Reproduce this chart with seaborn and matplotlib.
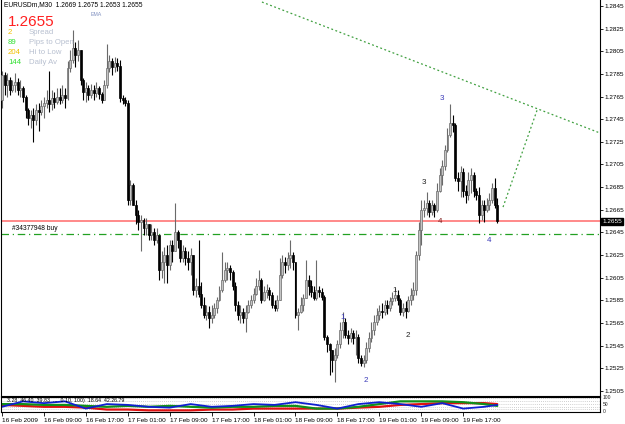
import numpy as np
import pandas as pd
import matplotlib
matplotlib.use("Agg")
import matplotlib.pyplot as plt
import seaborn as sns

# ---------------- data (prices in pips, 1.2655 -> 12655) ----------------
first_open_pips = 12762
close_pips = [
    12784, 12775, 12780, 12771, 12775, 12778, 12771, 12773, 12765, 12753,
    12746, 12749, 12744, 12753, 12751, 12757, 12759, 12762, 12758, 12764,
    12760, 12765, 12762, 12766, 12764, 12790, 12797, 12808, 12802, 12806,
    12780, 12769, 12773, 12766, 12771, 12768, 12773, 12767, 12762, 12775,
    12790, 12796, 12791, 12795, 12792, 12764, 12762, 12759, 12674, 12687,
    12669, 12660, 12654, 12656, 12649, 12652, 12643, 12645, 12638, 12643,
    12612, 12619, 12625, 12616, 12634, 12629, 12645, 12638, 12622, 12629,
    12622, 12619, 12625, 12594, 12598, 12591, 12581, 12572, 12575, 12569,
    12572, 12578, 12585, 12594, 12603, 12612, 12614, 12610, 12598, 12581,
    12572, 12575, 12569, 12575, 12581, 12585, 12591, 12598, 12603, 12585,
    12592, 12594, 12590, 12581, 12578, 12585, 12607, 12619, 12616, 12622,
    12625, 12619, 12572, 12575, 12581, 12587, 12603, 12598, 12592, 12587,
    12594, 12592, 12588, 12553, 12546, 12541, 12532, 12537, 12546, 12559,
    12566, 12554, 12552, 12556, 12552, 12553, 12534, 12530, 12532, 12543,
    12552, 12559, 12566, 12572, 12576, 12575, 12581, 12578, 12584, 12587,
    12590, 12585, 12575, 12578, 12576, 12585, 12590, 12594, 12625, 12647,
    12665, 12667, 12671, 12663, 12669, 12665, 12682, 12696, 12704, 12718,
    12731, 12742, 12740, 12693, 12690, 12698, 12682, 12678, 12691, 12696,
    12682, 12678, 12660, 12669, 12665, 12669, 12674, 12684, 12669, 12655,
]
high_pips = [
    12788, 12787, 12786, 12782, 12780, 12786, 12781, 12780, 12774, 12766,
    12755, 12753, 12755, 12758, 12759, 12762, 12765, 12771, 12788, 12771,
    12769, 12773, 12773, 12775, 12773, 12796, 12806, 12824, 12813, 12815,
    12802, 12781, 12778, 12775, 12776, 12775, 12778, 12774, 12769, 12780,
    12811, 12802, 12799, 12800, 12799, 12797, 12766, 12765, 12762, 12691,
    12689, 12674, 12665, 12660, 12658, 12658, 12652, 12652, 12649, 12649,
    12643, 12629, 12632, 12634, 12638, 12638, 12671, 12647, 12637, 12634,
    12632, 12629, 12631, 12625, 12605, 12638, 12601, 12588, 12581, 12580,
    12581, 12583, 12588, 12598, 12628, 12619, 12619, 12616, 12612, 12601,
    12584, 12581, 12578, 12581, 12585, 12590, 12596, 12605, 12612, 12605,
    12598, 12599, 12597, 12592, 12585, 12590, 12622, 12625, 12623, 12628,
    12638, 12628, 12619, 12578, 12588, 12591, 12621, 12607, 12603, 12598,
    12621, 12598, 12596, 12590, 12554, 12547, 12541, 12543, 12550, 12566,
    12575, 12569, 12559, 12561, 12559, 12559, 12555, 12537, 12537, 12548,
    12557, 12566, 12572, 12578, 12581, 12583, 12585, 12585, 12588, 12592,
    12596, 12594, 12587, 12583, 12584, 12589, 12596, 12601, 12629, 12654,
    12674, 12674, 12681, 12674, 12674, 12671, 12689, 12702, 12709, 12722,
    12737, 12758, 12749, 12742, 12698, 12704, 12702, 12687, 12698, 12702,
    12698, 12684, 12685, 12674, 12674, 12675, 12680, 12689, 12693, 12675,
]
low_pips = [
    12755, 12766, 12765, 12766, 12769, 12769, 12766, 12765, 12760, 12746,
    12740, 12737, 12725, 12740, 12735, 12749, 12746, 12755, 12751, 12753,
    12755, 12758, 12758, 12759, 12755, 12762, 12787, 12795, 12791, 12796,
    12775, 12762, 12760, 12762, 12764, 12762, 12765, 12763, 12759, 12762,
    12773, 12787, 12784, 12787, 12788, 12760, 12758, 12757, 12669, 12669,
    12669, 12652, 12647, 12629, 12643, 12643, 12638, 12638, 12634, 12636,
    12603, 12605, 12600, 12600, 12612, 12619, 12629, 12631, 12619, 12619,
    12616, 12612, 12607, 12590, 12588, 12588, 12578, 12569, 12568, 12561,
    12565, 12569, 12574, 12584, 12592, 12601, 12603, 12603, 12594, 12576,
    12568, 12565, 12565, 12557, 12574, 12578, 12583, 12590, 12594, 12583,
    12584, 12587, 12585, 12578, 12576, 12576, 12585, 12605, 12609, 12612,
    12614, 12612, 12569, 12559, 12574, 12576, 12587, 12590, 12588, 12585,
    12585, 12588, 12585, 12550, 12539, 12519, 12522, 12513, 12534, 12543,
    12552, 12552, 12546, 12548, 12546, 12537, 12530, 12527, 12526, 12530,
    12539, 12548, 12554, 12563, 12568, 12569, 12572, 12573, 12576, 12581,
    12584, 12581, 12572, 12571, 12569, 12575, 12581, 12585, 12590, 12621,
    12634, 12659, 12660, 12659, 12660, 12659, 12663, 12681, 12687, 12700,
    12716, 12729, 12734, 12690, 12682, 12676, 12676, 12671, 12674, 12680,
    12676, 12674, 12653, 12656, 12654, 12663, 12665, 12671, 12667, 12653,
]

time_labels = ["16 Feb 2009", "16 Feb 09:00", "16 Feb 17:00", "17 Feb 01:00",
               "17 Feb 09:00", "17 Feb 17:00", "18 Feb 01:00", "18 Feb 09:00",
               "18 Feb 17:00", "19 Feb 01:00", "19 Feb 09:00", "19 Feb 17:00"]
time_label_bars = [0, 16, 32, 48, 64, 80, 96, 112, 128, 144, 160, 176]

price_tick_labels = ["1.2505", "1.2525", "1.2545", "1.2565", "1.2585", "1.2605",
                     "1.2625", "1.2645", "1.2665", "1.2685", "1.2705", "1.2725",
                     "1.2745", "1.2765", "1.2785", "1.2805", "1.2825", "1.2845"]

# indicator sub-window (0..100), read at every 8th bar
ind_bars = [0, 8, 16, 24, 32, 40, 48, 56, 64, 72, 80, 88, 96, 104, 112, 120,
            128, 136, 144, 152, 160, 168, 176, 184, 189]
ind_blue = [33, 73, 60, 73, 20, 53, 47, 33, 27, 53, 33, 40, 53, 47, 67, 47,
            20, 53, 67, 53, 33, 60, 20, 33, 47]
ind_red = [47, 40, 33, 33, 27, 13, 13, 7, 7, 7, 13, 13, 20, 20, 20, 20,
           20, 27, 33, 47, 53, 60, 60, 60, 53]
ind_green = [53, 53, 47, 47, 40, 33, 40, 33, 40, 33, 27, 33, 33, 40, 40, 20,
             20, 33, 53, 73, 73, 73, 67, 53, 40]

bid_line = 1.2655
order_line = 1.2644
order_label = "#34377948 buy"

# trend lines (bar, price)
trend1_bars = [99.2, 228.2]
trend1_prices = [1.28485, 1.27328]
trend2_bars = [191.2, 204.2]
trend2_prices = [1.26674, 1.27531]

# wave labels: text, bar, price, colour
wave_labels = [
    ("1", 130, 1.2570, "#3a3ab8"), ("2", 139, 1.2514, "#3a3ab8"),
    ("1", 150, 1.2594, "#202020"), ("2", 155, 1.2554, "#202020"),
    ("3", 161, 1.2689, "#202020"), ("3", 168, 1.2763, "#3a3ab8"),
    ("4", 167, 1.2655, "#802020"), ("4", 186, 1.2638, "#3a3ab8"),
]

header = "EURUSDm,M30  1.2669 1.2675 1.2653 1.2655"
info_rows = [("2", "Spread", "#f0c000"), ("89", "Pips to Open", "#30e030"),
             ("204", "Hi to Low", "#f0c000"), ("144", "Daily Av", "#30e030")]

# ---------------- build frame ----------------
n = len(close_pips)
close = np.array(close_pips) / 1e4
high = np.array(high_pips) / 1e4
low = np.array(low_pips) / 1e4
opn = np.concatenate([[first_open_pips / 1e4], close[:-1]])
high = np.maximum(high, np.maximum(opn, close))
low = np.minimum(low, np.minimum(opn, close))
df = pd.DataFrame({"bar": np.arange(n), "open": opn, "high": high,
                   "low": low, "close": close})
up = df["close"] >= df["open"]

sns.set_style("white")
plt.rcParams["font.family"] = ["Liberation Sans", "DejaVu Sans"]

W, H = 625, 424
fig = plt.figure(figsize=(W / 100, H / 100), dpi=100)
ax = fig.add_axes([1 / W, (H - 396) / H, 599 / W, 396 / H])
axi = fig.add_axes([1 / W, (H - 412) / H, 599 / W, 15 / H], sharex=ax)

# wicks
ax.vlines(df.loc[up, "bar"], df.loc[up, "low"], df.loc[up, "high"],
          color="#6a6a6a", lw=0.8, zorder=2)
ax.vlines(df.loc[~up, "bar"], df.loc[~up, "low"], df.loc[~up, "high"],
          color="#000000", lw=0.8, zorder=2)
# bodies
bw = 0.75
ax.bar(df.loc[up, "bar"], (df.loc[up, "close"] - df.loc[up, "open"]).clip(lower=0.00003),
       bottom=df.loc[up, "open"], width=bw, color="#c4c4c4", edgecolor="#6a6a6a",
       linewidth=0.5, zorder=3)
ax.bar(df.loc[~up, "bar"], (df.loc[~up, "open"] - df.loc[~up, "close"]),
       bottom=df.loc[~up, "close"], width=bw, color="#000000", edgecolor="#000000",
       linewidth=0.5, zorder=3)

# horizontal lines
ax.axhline(bid_line, color="#ff8080", lw=1.3, zorder=1)
ax.axhline(order_line, color="#22a022", lw=0.9, ls=(0, (6, 3, 1, 3)), zorder=1)
ax.text(4, order_line + 0.00012, order_label, fontsize=4.8, color="#000000",
        va="bottom", ha="left")

# trend lines
sns.lineplot(x=trend1_bars, y=trend1_prices, ax=ax, color="#40a040", lw=0.9,
             linestyle=(0, (1.5, 2)), zorder=1)
sns.lineplot(x=trend2_bars, y=trend2_prices, ax=ax, color="#40a040", lw=0.9,
             linestyle=(0, (1.5, 2)), zorder=1)

for t, b, p, c in wave_labels:
    ax.text(b, p, t, fontsize=5.8, color=c, ha="center", va="center", zorder=5)

ax.set_xlim(-0.38, 228.2)
ax.set_ylim(1.25005, 1.28503)
ax.yaxis.tick_right()
ax.set_yticks([float(s) for s in price_tick_labels])
ax.set_yticklabels(price_tick_labels)
ax.tick_params(axis="y", right=True, length=2.5, width=0.6, pad=1,
               labelsize=4.6, colors="#000000")
ax.tick_params(axis="x", bottom=False, labelbottom=False)
for s in ["left", "right", "bottom", "top"]:
    ax.spines[s].set_color("#000000")
    ax.spines[s].set_linewidth(0.8)
ax.spines["top"].set_visible(False)

# price tag on axis
ax.text(1.004, bid_line, "1.2655", transform=ax.get_yaxis_transform(),
        fontsize=4.6, color="white", va="center", ha="left",
        bbox=dict(boxstyle="square,pad=0.15", fc="black", ec="black"), zorder=6)

# ---------------- indicator window ----------------
for lvl in [15, 35, 55, 75, 95]:
    axi.axhline(lvl, color="#c0c0c0", lw=0.6, ls=(0, (1, 1.5)), zorder=0)
sns.lineplot(x=ind_bars, y=ind_red, ax=axi, color="#e01010", lw=1.6)
sns.lineplot(x=ind_bars, y=ind_green, ax=axi, color="#10901a", lw=1.6)
sns.lineplot(x=ind_bars, y=ind_blue, ax=axi, color="#1020d0", lw=1.3)
axi.set_ylim(-5, 105)
axi.set_xlim(-0.38, 228.2)
axi.set_yticks([])
axi.set_xticks(time_label_bars)
axi.set_xticklabels(time_labels)
axi.tick_params(axis="x", bottom=True, length=3, width=0.6, pad=1.5,
                labelsize=4.6, colors="#000000")
for lab in axi.get_xticklabels():
    lab.set_horizontalalignment("left")
for s in ["left", "right", "bottom", "top"]:
    axi.spines[s].set_color("#000000")
    axi.spines[s].set_linewidth(0.8)
axi.set_xlabel("")
axi.set_ylabel("")
ax.set_xlabel("")
ax.set_ylabel("")
axi.text(2, 95, "3.28  46.40  39.83  ...  0.10, 100)  18.64  42.26.79",
         fontsize=3.8, color="#000000", va="top", ha="left")
for yv, t in [(100, "100"), (50, "50"), (0, "0")]:
    axi.text(1.004, yv, t, transform=axi.get_yaxis_transform(), fontsize=3.6,
             va="center", ha="left")

# ---------------- top-left info text ----------------
fig.text(4 / W, 1 - 5 / H, header, fontsize=4.8, color="#000000",
         va="center", ha="left")
fig.text(91 / W, 1 - 14 / H, "EMA", fontsize=3.8, color="#8090c0",
         va="center", ha="left")
fig.text(8 / W, 1 - 22 / H, "1.2655", fontsize=11, color="#ff2020",
         va="center", ha="left")
for k, (num, lab, col) in enumerate(info_rows):
    yy = 1 - (33 + 9.7 * k) / H
    fig.text(8 / W, yy, num, fontsize=5.6, color=col, va="center", ha="left")
    fig.text(29 / W, yy, lab, fontsize=5.6, color="#b8c0d0", va="center",
             ha="left")

fig.savefig("out.png", dpi=100, facecolor="white")
